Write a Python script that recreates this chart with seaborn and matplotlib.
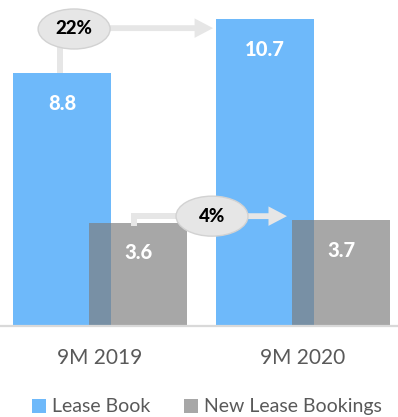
import matplotlib
matplotlib.use("Agg")
import matplotlib.pyplot as plt
from matplotlib.patches import Ellipse, Patch
import seaborn as sns
import pandas as pd

periods = ["9M 2019", "9M 2020"]
lease_book = [8.8, 10.7]
new_bookings = [3.6, 3.7]
series_names = ["Lease Book", "New Lease Bookings"]
growth_labels = ["22%", "4%"]

blue = "#6EB9FA"
grey = "#7D7D7D"
grey_alpha = 0.68
text_grey = "#595959"
bubble_fill = "#E6E6E6"
bubble_edge = "#D2D2D2"

df = pd.DataFrame({
    "period": periods * 2,
    "series": [series_names[0]] * 2 + [series_names[1]] * 2,
    "value": lease_book + new_bookings,
})

sns.set_theme(style="white")
plt.rcParams["font.family"] = ["Lato", "DejaVu Sans"]

fig = plt.figure(figsize=(3.98, 4.17), dpi=100)
ax = fig.add_axes([0, 0.218, 1, 0.782])

sns.barplot(data=df, x="period", y="value", hue="series",
            palette=[blue, grey], saturation=1, dodge=True, width=0.748,
            legend=False, ax=ax)

# widen the bars so that each pair overlaps
bar_w = 0.483
bars = {}
for patch in ax.patches:
    c = patch.get_x() + patch.get_width() / 2
    patch.set_width(bar_w)
    patch.set_x(c - bar_w / 2)
    patch.set_linewidth(0)
    h = patch.get_height()
    if h in new_bookings:
        patch.set_alpha(grey_alpha)
        bars[("new", new_bookings.index(h))] = patch
    else:
        bars[("book", lease_book.index(h))] = patch

ax.set_xlim(-0.493, 1.468)
ax.set_ylim(0, 11.36)
ax.set_xlabel("")
ax.set_ylabel("")
ax.set_yticks([])
for s in ["top", "left", "right"]:
    ax.spines[s].set_visible(False)
ax.spines["bottom"].set_color("#D9D9D9")
ax.spines["bottom"].set_linewidth(1.6)
ax.tick_params(axis="x", length=0, pad=16, labelsize=15, labelcolor=text_grey)

# value labels inside the bars
for (kind, i), p in bars.items():
    cx = p.get_x() + p.get_width() / 2
    ax.text(cx, p.get_height() - 1.05, f"{p.get_height():.1f}", ha="center",
            va="center", color="white", fontsize=14.5, fontweight="black")

px_x = 1 / 203.0
px_y = 1 / 28.7


def bubble(x, y, label):
    e = Ellipse((x, y), 72 * px_x, 40 * px_y, facecolor=bubble_fill,
                edgecolor=bubble_edge, linewidth=1.0, zorder=5)
    ax.add_patch(e)
    ax.text(x, y, label, ha="center", va="center", fontsize=13.5,
            fontweight="black", color="black", zorder=6)


def connector(xs, ys):
    ax.plot(xs, ys, color=bubble_fill, lw=4.3, solid_capstyle="butt",
            solid_joinstyle="miter", zorder=4)


def arrow(x0, x1, y):
    ax.annotate("", xy=(x1, y), xytext=(x0, y),
                arrowprops=dict(arrowstyle="simple,head_length=0.95,head_width=1.0,tail_width=0.3",
                                mutation_scale=14, color=bubble_fill, lw=0,
                                shrinkA=0, shrinkB=0), zorder=4)


# Lease Book growth
b0, b1 = bars[("book", 0)], bars[("book", 1)]
y_top = lease_book[1] - 0.35
bx = b0.get_x() + b0.get_width() / 2 + 12 * px_x
connector([b0.get_x() + 47 * px_x] * 2, [lease_book[0], y_top])
arrow(bx, b1.get_x() - 3 * px_x, y_top + 0.03)
bubble(bx, y_top, growth_labels[0])

# New Lease Bookings growth
n0, n1 = bars[("new", 0)], bars[("new", 1)]
y_mid = new_bookings[0] + 0.23
vx = n0.get_x() + 45 * px_x
cx2 = n0.get_x() + n0.get_width() + 25 * px_x
connector([vx, vx, cx2], [new_bookings[0] - 0.1, y_mid, y_mid])
arrow(cx2, n1.get_x() - 5 * px_x, y_mid)
bubble(cx2, y_mid, growth_labels[1])

handles = [Patch(facecolor=blue, edgecolor="none"),
           Patch(facecolor=grey, alpha=grey_alpha, edgecolor="none")]
fig.legend(handles, series_names, loc="center", bbox_to_anchor=(0.52, 0.024),
           ncol=2, frameon=False, fontsize=14, labelcolor=text_grey,
           handlelength=0.72, handleheight=0.72, handletextpad=0.3,
           columnspacing=1.7, borderpad=0)

fig.savefig("out.png", dpi=100)
